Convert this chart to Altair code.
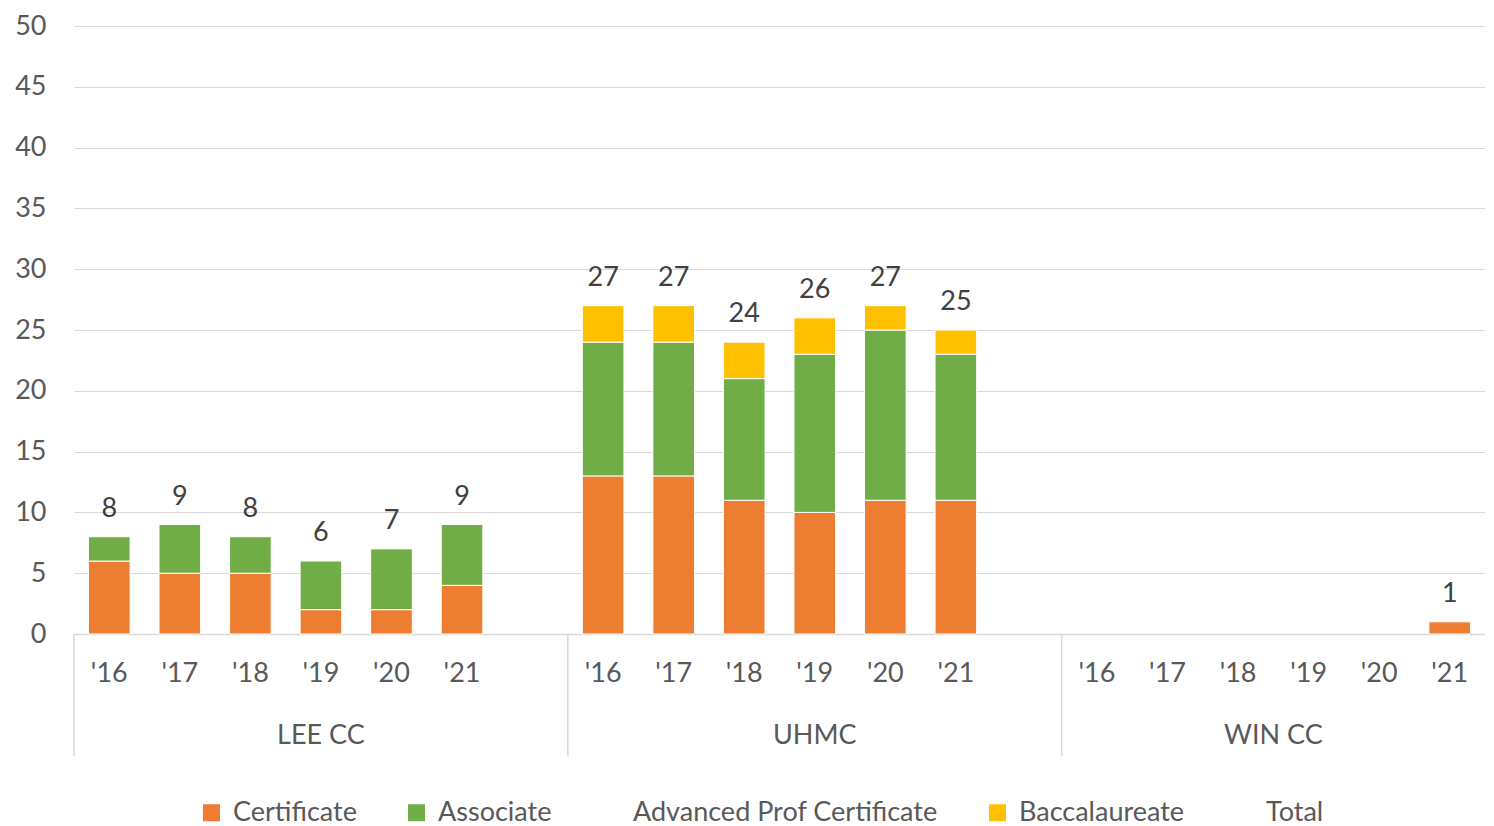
import altair as alt
import pandas as pd

schools = ["LEE CC", "UHMC", "WIN CC"]
years = ["'16", "'17", "'18", "'19", "'20", "'21"]
series = ["Certificate", "Associate", "Advanced Prof Certificate", "Baccalaureate", "Total"]
colors = ["#ED7D31", "#70AD47", "#FFFFFF", "#FFC000", "#FFFFFF"]

certificate = {"LEE CC": [6, 5, 5, 2, 2, 4], "UHMC": [13, 13, 11, 10, 11, 11], "WIN CC": [0, 0, 0, 0, 0, 1]}
associate = {"LEE CC": [2, 4, 3, 4, 5, 5], "UHMC": [11, 11, 10, 13, 14, 12], "WIN CC": [0, 0, 0, 0, 0, 0]}
advanced = {"LEE CC": [0, 0, 0, 0, 0, 0], "UHMC": [0, 0, 0, 0, 0, 0], "WIN CC": [0, 0, 0, 0, 0, 0]}
baccalaureate = {"LEE CC": [0, 0, 0, 0, 0, 0], "UHMC": [3, 3, 3, 3, 2, 2], "WIN CC": [0, 0, 0, 0, 0, 0]}

FONT = "Lato"
TXT = "#595959"
W, H = 1411, 608

# category domain with one blank slot between schools (the blank belongs to the group)
domain = []
groups = []
for i, s in enumerate(schools):
    start = len(domain)
    for y in years:
        domain.append(f"{s}|{y}")
    if i < len(schools) - 1:
        domain.append(f"{s}|")
    end = len(domain)
    groups.append({"school": s, "start": start, "mid": (start + end) / 2})
nslots = len(domain)

rows, totals = [], []
for s in schools:
    for j, y in enumerate(years):
        key = f"{s}|{y}"
        vals = [("Certificate", certificate[s][j]), ("Associate", associate[s][j]),
                ("Advanced Prof Certificate", advanced[s][j]), ("Baccalaureate", baccalaureate[s][j])]
        for k, (name, v) in enumerate(vals):
            if v > 0:
                rows.append({"key": key, "series": name, "value": v, "ord": k})
        t = sum(v for _, v in vals)
        if t > 0:
            totals.append({"key": key, "total": t})

df = pd.DataFrame(rows)
dt = pd.DataFrame(totals)
dg = pd.DataFrame(groups)

xscale = alt.Scale(domain=domain, paddingInner=0.41, paddingOuter=0.205)
yscale = alt.Scale(domain=[0, 50], nice=False)

bars = alt.Chart(df).mark_bar(stroke="white", strokeWidth=1).encode(
    x=alt.X("key:N", scale=xscale, sort=domain,
            axis=alt.Axis(title=None, labelExpr="split(datum.value, '|')[1]", labelAngle=0,
                          ticks=False, domainColor="#D9D9D9", domainWidth=1.5,
                          labelFontSize=27, labelFont=FONT, labelColor=TXT, labelPadding=26,
                          grid=False)),
    y=alt.Y("value:Q", stack="zero", scale=yscale,
            axis=alt.Axis(title=None, values=list(range(0, 51, 5)), ticks=False, domain=False,
                          gridColor="#D9D9D9", gridWidth=1, labelFontSize=27, labelFont=FONT,
                          labelColor=TXT, labelPadding=28)),
    color=alt.Color("series:N", scale=alt.Scale(domain=series, range=colors),
                    legend=alt.Legend(title=None, orient="none", direction="horizontal",
                                      legendX=124, legendY=H + 165, columns=5,
                                      symbolType="square", symbolSize=289, symbolStrokeWidth=0,
                                      labelFontSize=27, labelFont=FONT, labelColor=TXT,
                                      labelLimit=500, labelOffset=8, columnPadding=46)),
    order=alt.Order("ord:Q"),
)

labels = alt.Chart(dt).mark_text(dy=-20, baseline="alphabetic", fontSize=27, font=FONT,
                                 color="#404040").encode(
    x=alt.X("key:N", scale=xscale, sort=domain, axis=None),
    y=alt.Y("total:Q", scale=yscale),
    text="total:Q",
)

qx = alt.Scale(domain=[0, nslots], nice=False, zero=True)
seps = alt.Chart(dg).mark_rule(color="#D9D9D9", strokeWidth=1.5).encode(
    x=alt.X("start:Q", scale=qx, axis=None),
    y=alt.value(H),
    y2=alt.value(H + 122),
)
glabels = alt.Chart(dg).mark_text(fontSize=27, font=FONT, color=TXT, baseline="middle").encode(
    x=alt.X("mid:Q", scale=qx, axis=None),
    y=alt.value(H + 102),
    text="school:N",
)

chart = alt.layer(bars, labels, seps, glabels).resolve_scale(x="independent").properties(
    width=W, height=H,
    padding={"left": 6, "top": 4, "right": 0, "bottom": 0},
).configure_view(stroke=None)

chart.save("out.html", embed_options={"renderer": "svg", "actions": False})
